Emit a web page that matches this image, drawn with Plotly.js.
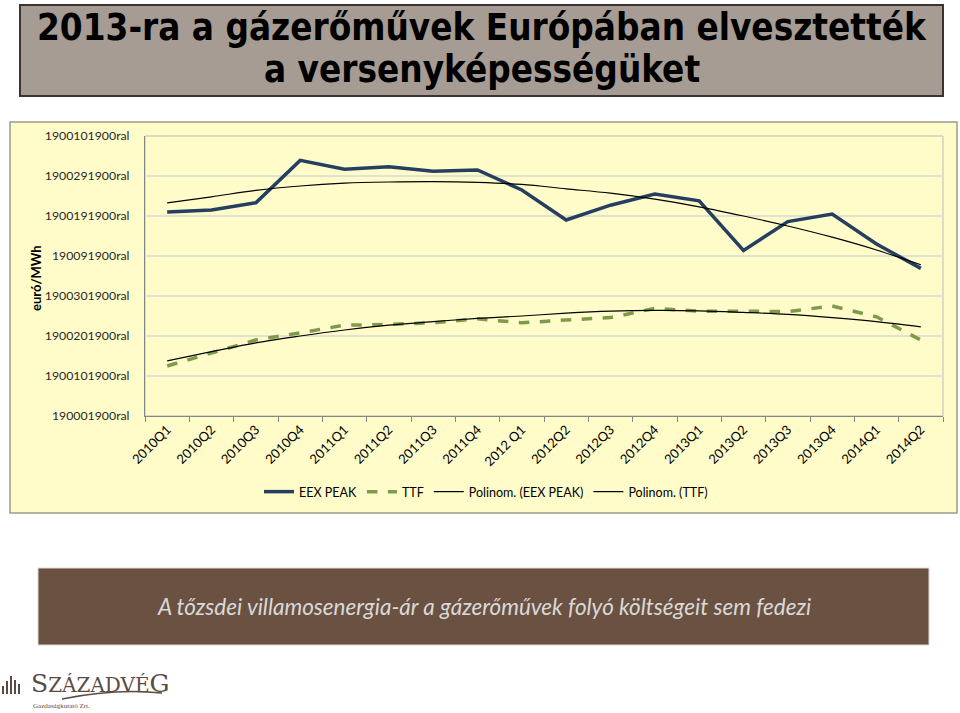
<!DOCTYPE html>
<html>
<head>
<meta charset="utf-8">
<script src="https://cdn.plot.ly/plotly-3.0.1.min.js"></script>
<style>
html,body{margin:0;padding:0;background:#ffffff;}
#chart{width:960px;height:713px;}
</style>
</head>
<body>
<div id="chart"></div>
<script>
// ---- data ----
const quarters = ["2010Q1","2010Q2","2010Q3","2010Q4","2011Q1","2011Q2","2011Q3","2011Q4",
  "2012 Q1","2012Q2","2012Q3","2012Q4","2013Q1","2013Q2","2013Q3","2013Q4","2014Q1","2014Q2"];
const eexPeak = [51, 51.5, 53.3, 63.9, 61.7, 62.3, 61.2, 61.5, 56.5, 49, 52.7, 55.5, 53.8, 41.4, 48.6, 50.5, 43, 36.9];
const ttf = [12.5, 15.7, 19, 20.8, 22.7, 22.9, 23.3, 24.3, 23.3, 24, 24.6, 26.9, 26.2, 26.2, 26.1, 27.5, 24.8, 19];
const eexTrend = [53.3, 54.8, 56.4, 57.5, 58.2, 58.5, 58.6, 58.4, 57.9, 56.8, 55.7, 54.2, 52.3, 50, 47.5, 44.7, 41.5, 37.8];
const ttfTrend = [13.8, 16.1, 18.3, 20, 21.5, 22.7, 23.6, 24.4, 25, 25.7, 26.2, 26.4, 26.3, 25.9, 25.4, 24.6, 23.6, 22.3];
const yTickVals = [0, 10, 20, 30, 40, 50, 60, 70];
const yTickText = ["190001900ral","1900101900ral","1900201900ral","1900301900ral",
  "190091900ral","1900191900ral","1900291900ral","1900101900ral"];
const legendNames = ["EEX PEAK", "TTF", "Polinom. (EEX PEAK)", "Polinom. (TTF)"];

// ---- pixel -> paper helpers (plot area: x 145..943, y 136..416) ----
const L = 145, R = 943, T = 136, B = 416, W = 960, H = 713;
const px = x => (x - L) / (R - L);
const py = y => (B - y) / (B - T);

const traces = [
  {x: quarters, y: eexPeak, name: legendNames[0], type: "scatter", mode: "lines",
   line: {color: "#243f60", width: 3.5}},
  {x: quarters, y: ttf, name: legendNames[1], type: "scatter", mode: "lines",
   line: {color: "#7e9a4a", width: 3.5, dash: "dash"}},
  {x: quarters, y: eexTrend, name: legendNames[2], type: "scatter", mode: "lines",
   line: {color: "#000000", width: 1.2, shape: "spline"}},
  {x: quarters, y: ttfTrend, name: legendNames[3], type: "scatter", mode: "lines",
   line: {color: "#000000", width: 1.2, shape: "spline"}}
];

const brown = "#5b4a42";
const shapes = [
  // title box
  {type: "rect", xref: "paper", yref: "paper", x0: px(20), x1: px(943), y0: py(96), y1: py(5),
   fillcolor: "#a69c94", line: {color: "#3a3330", width: 2}, layer: "below"},
  // chart area
  {type: "rect", xref: "paper", yref: "paper", x0: px(10), x1: px(957), y0: py(513), y1: py(122),
   fillcolor: "#fffcca", line: {color: "#9c9c88", width: 1.5}, layer: "below"},
  // plot area border
  {type: "rect", xref: "paper", yref: "paper", x0: 0, x1: 1, y0: 0, y1: 1,
   fillcolor: "rgba(0,0,0,0)", line: {color: "#bdbdb0", width: 1}, layer: "below"},
  // brown box
  {type: "rect", xref: "paper", yref: "paper", x0: px(38), x1: px(929), y0: py(645), y1: py(568),
   fillcolor: "#6b5142", line: {color: "#e0d8d0", width: 1}, layer: "below"},
  // logo bars
  {type: "rect", xref: "paper", yref: "paper", x0: px(2), x1: px(4), y0: py(694), y1: py(686), fillcolor: brown, line: {width: 0}},
  {type: "rect", xref: "paper", yref: "paper", x0: px(6), x1: px(8), y0: py(694), y1: py(681), fillcolor: brown, line: {width: 0}},
  {type: "rect", xref: "paper", yref: "paper", x0: px(10), x1: px(12), y0: py(694), y1: py(676), fillcolor: brown, line: {width: 0}},
  {type: "rect", xref: "paper", yref: "paper", x0: px(14), x1: px(16), y0: py(694), y1: py(680), fillcolor: brown, line: {width: 0}},
  {type: "rect", xref: "paper", yref: "paper", x0: px(18), x1: px(20), y0: py(694), y1: py(684), fillcolor: brown, line: {width: 0}},
  // logo swoosh
  {type: "path", xref: "paper", yref: "paper",
   path: `M ${px(62)} ${py(699)} Q ${px(115)} ${py(688)} ${px(162)} ${py(693)}`,
   line: {color: brown, width: 1.5}}
];

const annotations = [
  {text: "<b>2013-ra a gázerőművek Európában elvesztették</b>", xref: "paper", yref: "paper",
   x: px(482), y: py(27), showarrow: false, xanchor: "center", yanchor: "middle",
   font: {family: "DejaVu Sans Condensed, DejaVu Sans", size: 36.5, color: "#000000"}},
  {text: "<b>a versenyképességüket</b>", xref: "paper", yref: "paper",
   x: px(482), y: py(70), showarrow: false, xanchor: "center", yanchor: "middle",
   font: {family: "DejaVu Sans Condensed, DejaVu Sans", size: 36.5, color: "#000000"}},
  {text: "<b>euró/MWh</b>", xref: "paper", yref: "paper", x: px(36), y: py(278),
   showarrow: false, textangle: -90, xanchor: "center", yanchor: "middle",
   font: {family: "Lato, Open Sans", size: 13, color: "#000000"}},
  {text: "<i>A tőzsdei villamosenergia-ár a gázerőművek folyó költségeit sem fedezi</i>",
   xref: "paper", yref: "paper", x: px(484), y: py(606), showarrow: false,
   xanchor: "center", yanchor: "middle",
   font: {family: "Lato, Open Sans", size: 22.5, color: "#d9d9d9"}},
  {text: "S<span style='font-size:20px'>ZÁZADVÉ</span>G", xref: "paper", yref: "paper",
   x: px(29), y: py(683), showarrow: false, xanchor: "left", yanchor: "middle",
   font: {family: "DejaVu Serif, Liberation Serif", size: 25, color: brown}},
  {text: "Gazdaságkutató Zrt.", xref: "paper", yref: "paper",
   x: px(31), y: py(706), showarrow: false, xanchor: "left", yanchor: "middle",
   font: {family: "Liberation Serif", size: 7, color: brown}}
];

const layout = {
  width: W, height: H,
  paper_bgcolor: "#ffffff",
  plot_bgcolor: "rgba(0,0,0,0)",
  margin: {l: L, r: W - R, t: T, b: H - B, pad: 0},
  showlegend: true,
  legend: {orientation: "h", x: px(486), xanchor: "center", y: py(492), yanchor: "middle",
    font: {family: "Lato, Open Sans", size: 12.5, color: "#000000"},
    bgcolor: "rgba(0,0,0,0)", tracegroupgap: 0},
  xaxis: {type: "category", range: [-0.5, quarters.length - 0.5], tickson: "boundaries",
    ticks: "outside", ticklen: 5,
    tickcolor: "#868686", showline: true, linecolor: "#868686", linewidth: 1,
    showgrid: false, tickangle: -45, zeroline: false,
    tickfont: {family: "Lato, Open Sans", size: 13, color: "#000000"}},
  yaxis: {range: [0, 70], tickvals: yTickVals, ticktext: yTickText,
    showline: true, linecolor: "#868686", linewidth: 1, ticks: "",
    showgrid: true, gridcolor: "#e2e2d2", gridwidth: 1.5, zeroline: false,
    ticklabelstandoff: 12,
    tickfont: {family: "Lato, Open Sans", size: 12.3, color: "#2a2a2a"}},
  shapes: shapes,
  annotations: annotations
};

Plotly.newPlot("chart", traces, layout, {displayModeBar: false, staticPlot: true});
</script>
</body>
</html>
